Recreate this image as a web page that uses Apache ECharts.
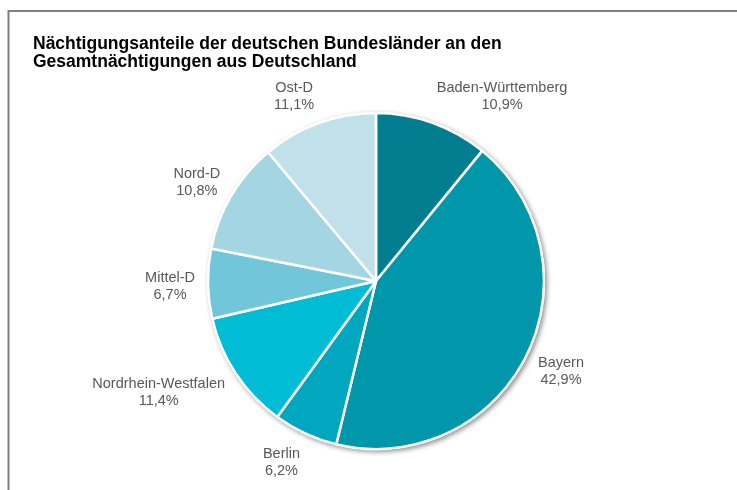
<!DOCTYPE html>
<html>
<head>
<meta charset="utf-8">
<script src="https://cdn.jsdelivr.net/npm/echarts@6/dist/echarts.min.js"></script>
<style>
  html, body { margin: 0; padding: 0; background: #fff; }
  #chart { width: 737px; height: 490px; }
</style>
</head>
<body>
<div id="chart"></div>
<script>
  // Anteile in Prozent, im Uhrzeigersinn ab 12 Uhr
  const regions = ["Baden-Württemberg", "Bayern", "Berlin", "Nordrhein-Westfalen", "Mittel-D", "Nord-D", "Ost-D"];
  const shares = [10.9, 42.9, 6.2, 11.4, 6.7, 10.8, 11.1];
  const sliceColors = ["#007e8f", "#0097aa", "#00a7be", "#00bcd4", "#71c6da", "#a3d5e3", "#c0e1ea"];

  const cx = 376, cy = 281, R = 168;
  const total = shares.reduce(function(a, b) { return a + b; }, 0);

  // Winkel der Segmentmitte (Radiant, im Uhrzeigersinn ab oben)
  function midAngle(i) {
    let before = 0;
    for (let k = 0; k < i; k++) before += shares[k];
    return ((before + shares[i] / 2) / total) * 2 * Math.PI;
  }
  function clamp(v) { return Math.max(-1, Math.min(1, v)); }

  let myChart = echarts.init(document.getElementById("chart"));
  myChart.setOption({
    animation: false,
    title: {
      text: "Nächtigungsanteile der deutschen Bundesländer an den\nGesamtnächtigungen aus Deutschland",
      left: 28,
      top: 30,
      textStyle: { fontFamily: "Liberation Sans", fontSize: 17.5, fontWeight: "bold", color: "#000", lineHeight: 18 }
    },
    graphic: [{
      type: "rect",
      shape: { x: 8.5, y: 11, width: 760, height: 500 },
      style: { fill: "none", stroke: "#7f7f7f", lineWidth: 2 },
      silent: true,
      z: 0
    }],
    series: [
      {
        // Schatten unter dem ganzen Kreis
        type: "pie",
        silent: true,
        center: [cx, cy],
        radius: R + 1,
        label: { show: false },
        labelLine: { show: false },
        data: [{ value: 1, itemStyle: { color: "#fff", shadowBlur: 5, shadowColor: "rgba(0,0,0,0.45)", shadowOffsetX: 2, shadowOffsetY: 2 } }],
        z: 1
      },
      {
        type: "pie",
        center: [cx, cy],
        radius: R,
        startAngle: 90,
        clockwise: true,
        z: 2,
        itemStyle: { borderColor: "#fff", borderWidth: 2.5 },
        labelLine: { show: false },
        label: {
          show: true,
          position: "outside",
          fontFamily: "Liberation Sans",
          fontSize: 14.5,
          lineHeight: 17,
          color: "#595959",
          align: "center",
          formatter: function(p) {
            return p.name + "\n" + p.value.toFixed(1).replace(".", ",") + "%";
          }
        },
        labelLayout: function(params) {
          let a = midAngle(params.dataIndex);
          let ux = Math.sin(a), uy = -Math.cos(a);
          let w = params.labelRect.width, h = params.labelRect.height;
          let px = cx + (R + 13) * ux, py = cy + (R + 13) * uy;
          return {
            x: px + clamp(ux * 3) * w / 2,
            y: py + uy * h / 2 + 2,
            align: "center",
            verticalAlign: "middle"
          };
        },
        data: regions.map(function(name, i) {
          return { name: name, value: shares[i], itemStyle: { color: sliceColors[i] } };
        })
      }
    ]
  });
</script>
</body>
</html>
